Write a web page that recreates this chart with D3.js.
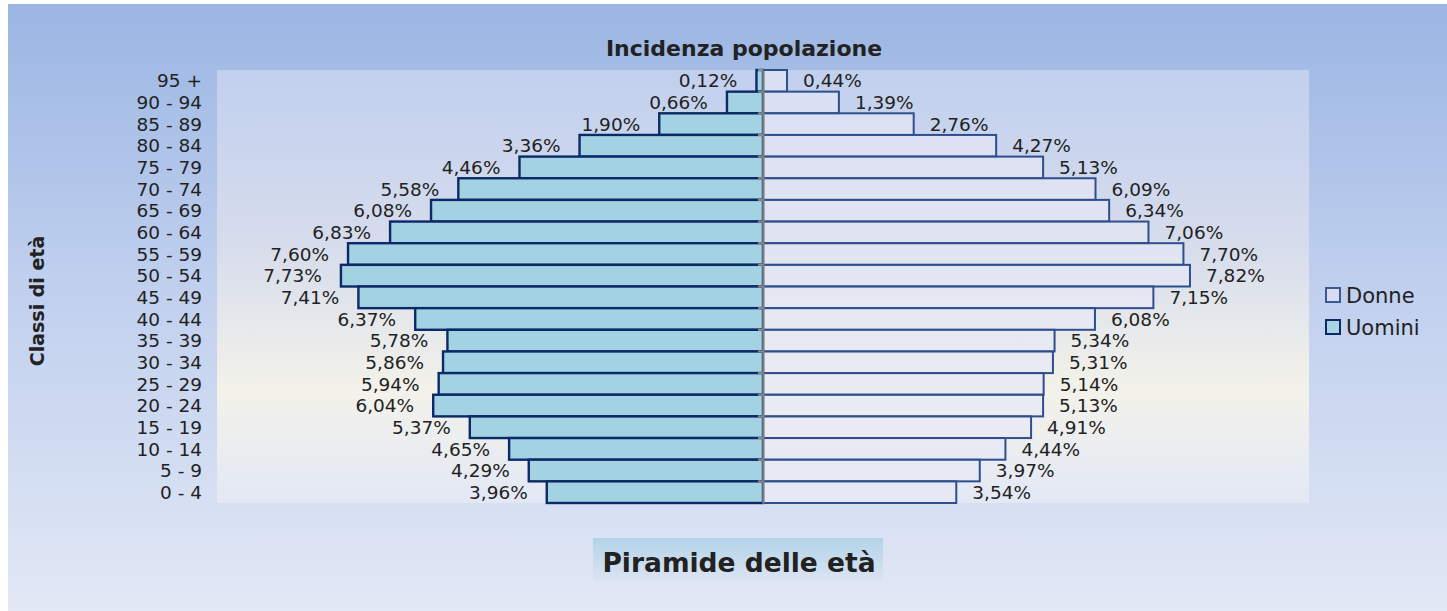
<!DOCTYPE html>
<html lang="it">
<head>
<meta charset="utf-8">
<title>Piramide delle età</title>
<script src="https://d3js.org/d3.v7.min.js"></script>
<style>
  body { margin: 0; background: #fff; }
  text { font-family: "DejaVu Sans", Verdana, sans-serif; fill: #222; }
</style>
</head>
<body>
<script>
// fasce d'età (dall'alto verso il basso) e percentuali
var classi = ["95 +", "90 - 94", "85 - 89", "80 - 84", "75 - 79", "70 - 74", "65 - 69",
              "60 - 64", "55 - 59", "50 - 54", "45 - 49", "40 - 44", "35 - 39", "30 - 34",
              "25 - 29", "20 - 24", "15 - 19", "10 - 14", "5 - 9", "0 - 4"];
var uomini = [0.12, 0.66, 1.90, 3.36, 4.46, 5.58, 6.08, 6.83, 7.60, 7.73, 7.41, 6.37,
              5.78, 5.86, 5.94, 6.04, 5.37, 4.65, 4.29, 3.96];
var donne  = [0.44, 1.39, 2.76, 4.27, 5.13, 6.09, 6.34, 7.06, 7.70, 7.82, 7.15, 6.08,
              5.34, 5.31, 5.14, 5.13, 4.91, 4.44, 3.97, 3.54];
var serie = ["Donne", "Uomini"];

var W = 1447, H = 611;
var plot = {left: 217, right: 1309, top: 70, bottom: 503};

var svg = d3.select("body").append("svg")
  .attr("width", W).attr("height", H);

var defs = svg.append("defs");
var gOut = defs.append("linearGradient").attr("id", "bgOut")
  .attr("x1", 0).attr("y1", 0).attr("x2", 0).attr("y2", 1);
gOut.append("stop").attr("offset", "0%").attr("stop-color", "#9bb6e3");
gOut.append("stop").attr("offset", "45%").attr("stop-color", "#bfcfee");
gOut.append("stop").attr("offset", "100%").attr("stop-color", "#e2e8f5");

var gIn = defs.append("linearGradient").attr("id", "bgIn")
  .attr("x1", 0).attr("y1", 0).attr("x2", 0).attr("y2", 1);
gIn.append("stop").attr("offset", "0%").attr("stop-color", "#c1d0ee");
gIn.append("stop").attr("offset", "40%").attr("stop-color", "#d6dcec");
gIn.append("stop").attr("offset", "74%").attr("stop-color", "#f3f2ea");
gIn.append("stop").attr("offset", "100%").attr("stop-color", "#e3e8f5");

var gBox = defs.append("linearGradient").attr("id", "bgBox")
  .attr("x1", 0).attr("y1", 0).attr("x2", 0).attr("y2", 1);
gBox.append("stop").attr("offset", "0%").attr("stop-color", "#b2d3e8");
gBox.append("stop").attr("offset", "100%").attr("stop-color", "#dde4f3");

svg.append("rect").attr("x", 8).attr("y", 4).attr("width", W - 8).attr("height", H - 4)
  .attr("fill", "url(#bgOut)");
svg.append("rect").attr("x", plot.left).attr("y", plot.top)
  .attr("width", plot.right - plot.left).attr("height", plot.bottom - plot.top)
  .attr("fill", "url(#bgIn)");

var x = d3.scaleLinear().domain([-10, 10]).range([plot.left, plot.right]);
var y = d3.scaleBand().domain(classi).range([plot.top, plot.bottom]).padding(0);

// barre uomini (sinistra)
svg.selectAll(".uomo").data(uomini).enter().append("rect")
  .attr("class", "uomo")
  .attr("x", function(d) { return x(-d); })
  .attr("y", function(d, i) { return y(classi[i]); })
  .attr("width", function(d) { return x(0) - x(-d); })
  .attr("height", y.bandwidth())
  .attr("fill", "#a3d2e2")
  .attr("stroke", "#0c2968").attr("stroke-width", 2.4);

// barre donne (destra)
svg.selectAll(".donna").data(donne).enter().append("rect")
  .attr("class", "donna")
  .attr("x", x(0))
  .attr("y", function(d, i) { return y(classi[i]); })
  .attr("width", function(d) { return x(d) - x(0); })
  .attr("height", y.bandwidth())
  .attr("fill", "#e6e8f6").attr("fill-opacity", 0.65)
  .attr("stroke", "#2e4e8e").attr("stroke-width", 2);

// asse centrale
var asse = svg.append("g").attr("transform", "translate(" + x(0) + ",0)")
  .call(d3.axisLeft(y).tickSize(5).tickFormat("").tickSizeOuter(0));
asse.select(".domain").attr("stroke", "#7f7f7f").attr("stroke-width", 2);
asse.selectAll(".tick line").attr("stroke", "#8a8a8a").attr("stroke-width", 2)
  .attr("transform", "translate(0," + (-y.bandwidth() / 2) + ")");

function fmt(v) { return v.toFixed(2).replace(".", ",") + "%"; }

svg.selectAll(".lab-u").data(uomini).enter().append("text")
  .attr("x", function(d) { return x(-d) - 19; })
  .attr("y", function(d, i) { return y(classi[i]) + y.bandwidth() / 2; })
  .attr("dy", "0.36em").attr("text-anchor", "end")
  .style("font-size", "18.5px")
  .text(fmt);

svg.selectAll(".lab-d").data(donne).enter().append("text")
  .attr("x", function(d) { return x(d) + 16; })
  .attr("y", function(d, i) { return y(classi[i]) + y.bandwidth() / 2; })
  .attr("dy", "0.36em").attr("text-anchor", "start")
  .style("font-size", "18.5px")
  .text(fmt);

// etichette categorie
svg.selectAll(".cat").data(classi).enter().append("text")
  .attr("x", 202)
  .attr("y", function(d) { return y(d) + y.bandwidth() / 2; })
  .attr("dy", "0.36em").attr("text-anchor", "end")
  .style("font-size", "18.5px")
  .text(function(d) { return d; });

// titoli
svg.append("text").attr("x", 744).attr("y", 48).attr("dy", "0.36em")
  .attr("text-anchor", "middle").attr("font-weight", "bold")
  .style("font-size", "22px").text("Incidenza popolazione");

svg.append("text")
  .attr("transform", "translate(37,301)rotate(-90)")
  .attr("dy", "0.36em").attr("text-anchor", "middle").attr("font-weight", "bold")
  .style("font-size", "19px").text("Classi di età");

svg.append("rect").attr("x", 593).attr("y", 538).attr("width", 290).attr("height", 44)
  .attr("fill", "url(#bgBox)");
svg.append("text").attr("x", 739).attr("y", 562).attr("dy", "0.36em")
  .attr("text-anchor", "middle").attr("font-weight", "bold")
  .style("font-size", "26.5px").text("Piramide delle età");

// legenda
var legFill = {"Donne": "#d9dcef", "Uomini": "#a8d4e3"};
var legStroke = {"Donne": "#3a5a9a", "Uomini": "#0c2a6a"};
var leg = svg.selectAll(".legend").data(serie).enter().append("g")
  .attr("transform", function(d, i) { return "translate(1326," + (288 + i * 32) + ")"; });
leg.append("rect").attr("width", 14).attr("height", 14)
  .attr("fill", function(d) { return legFill[d]; })
  .attr("stroke", function(d) { return legStroke[d]; }).attr("stroke-width", 2);
leg.append("text").attr("x", 20).attr("y", 7).attr("dy", "0.36em")
  .style("font-size", "21px").text(function(d) { return d; });
</script>
</body>
</html>
